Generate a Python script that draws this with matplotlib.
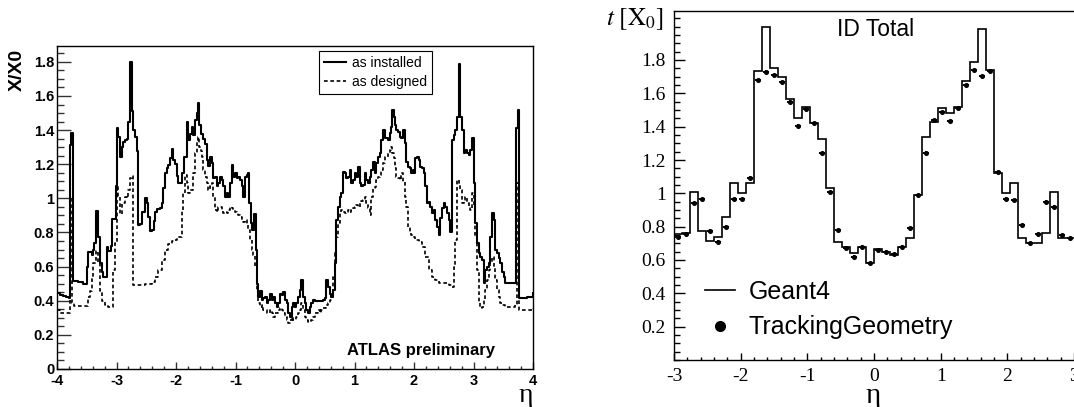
import numpy as np
import matplotlib
matplotlib.use("Agg")
import matplotlib.pyplot as plt
from matplotlib.ticker import MultipleLocator, FixedLocator
from matplotlib.lines import Line2D

plt.rcParams['axes.unicode_minus'] = False
plt.rcParams['mathtext.fontset'] = 'stix'

# ---------------- Left panel data (step edges, values) ----------------
eta_installed = [-4.00, -3.95, -3.90, -3.85, -3.80, -3.785, -3.76, -3.73, -3.65, -3.57, -3.50, -3.474, -3.42, -3.39,
                 -3.373, -3.351, -3.31, -3.28, -3.25, -3.22, -3.166, -3.14, -3.10, -3.071, -3.04, -3.01, -2.998, -2.97,
                 -2.94, -2.914, -2.886, -2.858, -2.83, -2.802, -2.774, -2.746, -2.718, -2.69, -2.662, -2.634, -2.60,
                 -2.567, -2.522, -2.494, -2.466, -2.438, -2.40, -2.371, -2.354, -2.326, -2.27, -2.242, -2.214, -2.186,
                 -2.158, -2.13, -2.102, -2.074, -2.046, -2.018, -1.99, -1.961, -1.905, -1.894, -1.86, -1.821, -1.793,
                 -1.765, -1.737, -1.709, -1.681, -1.653, -1.636, -1.613, -1.58, -1.541, -1.513, -1.485, -1.457, -1.429,
                 -1.401, -1.373, -1.345, -1.317, -1.289, -1.261, -1.233, -1.205, -1.177, -1.149, -1.121, -1.093, -1.065,
                 -1.037, -1.009, -0.981, -0.953, -0.925, -0.897, -0.869, -0.841, -0.813, -0.785, -0.768, -0.74, -0.718,
                 -0.684, -0.656, -0.645, -0.617, -0.589, -0.561, -0.533, -0.505, -0.477, -0.449, -0.421, -0.393, -0.365,
                 -0.337, -0.309, -0.281, -0.253, -0.225, -0.197, -0.169, -0.141, -0.113, -0.085, -0.057, -0.029, -0.006,
                 0.022, 0.05, 0.078, 0.106, 0.134, 0.162, 0.19, 0.218, 0.246, 0.274, 0.302, 0.33, 0.47, 0.498, 0.526,
                 0.554, 0.582, 0.61, 0.638, 0.666, 0.694, 0.722, 0.75, 0.778, 0.806, 0.834, 0.862, 0.89, 0.918, 0.946,
                 0.974, 1.002, 1.03, 1.058, 1.086, 1.114, 1.142, 1.17, 1.198, 1.226, 1.254, 1.282, 1.31, 1.338, 1.366,
                 1.394, 1.422, 1.45, 1.478, 1.506, 1.534, 1.562, 1.59, 1.618, 1.635, 1.657, 1.674, 1.702, 1.73, 1.758,
                 1.786, 1.814, 1.842, 1.87, 1.898, 1.926, 1.954, 1.982, 1.994, 2.022, 2.05, 2.078, 2.106, 2.134, 2.162,
                 2.19, 2.218, 2.246, 2.274, 2.302, 2.33, 2.358, 2.386, 2.414, 2.442, 2.47, 2.498, 2.526, 2.554, 2.582,
                 2.61, 2.638, 2.666, 2.694, 2.722, 2.75, 2.778, 2.806, 2.834, 2.862, 2.89, 2.918, 2.946, 2.974, 3.002,
                 3.03, 3.058, 3.086, 3.114, 3.142, 3.17, 3.198, 3.226, 3.254, 3.282, 3.31, 3.338, 3.366, 3.394, 3.422,
                 3.45, 3.478, 3.506, 3.534, 3.62, 3.719, 3.747, 3.77, 3.90, 4.00]
x0_installed = [0.444, 0.436, 0.43, 0.424, 0.418, 1.31, 1.385, 0.516, 0.508, 0.50, 0.60, 0.684, 0.67, 0.70,
                0.74, 0.928, 0.776, 0.62, 0.57, 0.54, 0.717, 0.69, 0.72, 0.877, 0.88, 1.07, 1.41, 1.36,
                1.245, 1.30, 1.33, 1.34, 1.35, 1.45, 1.80, 1.51, 1.40, 1.36, 1.28, 0.844, 0.85,
                0.92, 1.00, 0.97, 0.89, 0.81, 0.815, 0.87, 0.92, 0.94, 0.945, 0.97, 1.06, 1.147,
                1.18, 1.196, 1.235, 1.29, 1.225, 1.20, 1.13, 1.09, 1.09, 1.15, 1.245, 1.45, 1.34,
                1.38, 1.42, 1.37, 1.46, 1.50, 1.557, 1.43, 1.38, 1.35, 1.32, 1.225, 1.187, 1.245,
                1.21, 1.117, 1.127, 1.07, 1.09, 1.127, 1.108, 1.07, 1.01, 1.03, 1.01, 1.09, 1.196,
                1.127, 1.147, 1.117, 1.127, 1.108, 1.07, 1.01, 1.127, 1.137, 1.147, 0.97, 0.854, 0.815,
                0.91, 0.70, 0.50, 0.424, 0.46, 0.405, 0.414, 0.424, 0.385, 0.405, 0.44, 0.405, 0.424,
                0.385, 0.365, 0.385, 0.44, 0.434, 0.453, 0.405, 0.385, 0.326, 0.307, 0.365, 0.385, 0.365,
                0.385, 0.424, 0.463, 0.52, 0.424, 0.385, 0.346, 0.326, 0.365, 0.385, 0.405, 0.40, 0.405, 0.414, 0.52,
                0.483, 0.44, 0.424, 0.463, 0.62, 0.873, 0.952, 1.01, 1.03, 1.157, 1.147, 1.117, 1.127, 1.166, 1.09,
                1.108, 1.147, 1.127, 1.186, 1.09, 1.07, 1.08, 1.147, 1.108, 1.09, 1.127, 1.166, 1.215, 1.147, 1.206,
                1.245, 1.264, 1.342, 1.40, 1.352, 1.352, 1.342, 1.381, 1.42, 1.518, 1.479, 1.43, 1.40, 1.391, 1.362,
                1.352, 1.40, 1.323, 1.215, 1.186, 1.176, 1.147, 1.166, 1.147, 1.235, 1.245, 1.225, 1.186, 1.176, 1.147,
                1.07, 0.97, 0.98, 0.952, 0.913, 0.932, 0.873, 0.834, 0.785, 0.883, 0.942, 0.97, 0.952, 0.913, 0.873,
                0.805, 1.342, 1.37, 1.40, 1.479, 1.79, 1.479, 1.40, 1.264, 1.284, 1.264, 1.255, 1.284, 1.352, 1.088,
                0.854, 0.737, 0.678, 0.659, 0.639, 0.502, 0.58, 0.60, 0.62, 0.776, 0.913, 0.873, 0.698, 0.678, 0.649,
                0.62, 0.571, 0.541, 0.502, 0.506, 1.41, 1.518, 0.414, 0.424, 0.444]

eta_designed = [-4.00, -3.95, -3.782, -3.755, -3.72, -3.50, -3.474, -3.446, -3.418, -3.39, -3.351, -3.306, -3.278,
                -3.25, -3.194, -3.138, -3.054, -3.026, -2.998, -2.97, -2.942, -2.914, -2.858, -2.83, -2.802, -2.774,
                -2.746, -2.718, -2.60, -2.522, -2.41, -2.354, -2.298, -2.242, -2.186, -2.13, -2.074, -2.018, -1.989,
                -1.905, -1.894, -1.877, -1.849, -1.821, -1.793, -1.765, -1.709, -1.681, -1.653, -1.636, -1.613, -1.58,
                -1.558, -1.541, -1.513, -1.485, -1.457, -1.429, -1.401, -1.373, -1.345, -1.317, -1.289, -1.233, -1.205,
                -1.177, -1.149, -1.121, -1.093, -1.065, -1.037, -1.009, -0.981, -0.953, -0.925, -0.897, -0.869, -0.841,
                -0.813, -0.785, -0.757, -0.729, -0.701, -0.673, -0.645, -0.617, -0.589, -0.561, -0.533, -0.477, -0.421,
                -0.393, -0.365, -0.337, -0.281, -0.253, -0.225, -0.197, -0.169, -0.141, -0.113, -0.085, -0.057, -0.029,
                0.022, 0.05, 0.078, 0.106, 0.134, 0.162, 0.19, 0.218, 0.274, 0.302, 0.33, 0.386, 0.414, 0.442, 0.47,
                0.526, 0.554, 0.582, 0.61, 0.638, 0.666, 0.694, 0.722, 0.75, 0.778, 0.806, 0.834, 0.862, 0.89, 0.918,
                0.946, 0.974, 1.002, 1.03, 1.058, 1.086, 1.114, 1.142, 1.17, 1.198, 1.226, 1.254, 1.282, 1.31, 1.338,
                1.366, 1.394, 1.422, 1.45, 1.478, 1.506, 1.562, 1.59, 1.618, 1.635, 1.657, 1.674, 1.702, 1.73, 1.758,
                1.786, 1.814, 1.842, 1.87, 1.898, 1.926, 1.954, 1.982, 2.022, 2.078, 2.134, 2.19, 2.246, 2.302, 2.358,
                2.414, 2.47, 2.526, 2.582, 2.638, 2.666, 2.694, 2.722, 2.75, 2.778, 2.806, 2.834, 2.862, 2.89, 2.918,
                2.946, 2.974, 3.002, 3.03, 3.058, 3.086, 3.114, 3.142, 3.17, 3.198, 3.226, 3.254, 3.282, 3.31, 3.338,
                3.366, 3.394, 3.422, 3.45, 3.478, 3.534, 3.70, 3.725, 3.76, 3.90, 4.00]
x0_designed = [0.346, 0.326, 1.00, 0.385, 0.37, 0.372, 0.42, 0.46, 0.54, 0.62, 0.69, 0.62, 0.46,
               0.40, 0.375, 0.366, 0.58, 0.74, 1.07, 1.01, 0.91, 0.97, 1.01, 1.00, 1.05, 1.12,
               1.13, 0.49, 0.492, 0.50, 0.51, 0.54, 0.58, 0.64, 0.70, 0.73, 0.75, 0.756, 0.776,
               0.79, 0.93, 1.03, 1.137, 1.09, 1.03, 1.05, 1.147, 1.264, 1.34, 1.36, 1.30, 1.28,
               1.245, 1.166, 1.127, 1.09, 1.05, 1.07, 1.09, 1.01, 0.93, 0.92, 0.952, 0.93, 0.913,
               0.923, 0.913, 0.93, 0.952, 0.942, 0.93, 0.923, 0.913, 0.903, 0.893, 0.873, 0.863, 0.873,
               0.844, 0.815, 0.756, 0.70, 0.67, 0.60, 0.46, 0.385, 0.365, 0.375, 0.346, 0.326, 0.346,
               0.326, 0.307, 0.326, 0.346, 0.356, 0.346, 0.326, 0.307, 0.287, 0.267, 0.287, 0.307, 0.287,
               0.307, 0.326, 0.346, 0.385, 0.346, 0.307, 0.287, 0.277, 0.287, 0.307, 0.326, 0.346, 0.326, 0.346, 0.356,
               0.375, 0.385, 0.405, 0.424, 0.54, 0.68, 0.776, 0.854, 0.913, 0.932, 0.923, 0.913, 0.923, 0.932, 0.923,
               0.932, 0.942, 0.952, 0.962, 0.952, 0.972, 0.982, 0.991, 1.01, 0.972, 0.942, 0.903, 1.01, 1.059, 1.069,
               1.108, 1.127, 1.137, 1.166, 1.206, 1.245, 1.264, 1.284, 1.30, 1.264, 1.235, 1.176, 1.127, 1.117, 1.108,
               1.147, 1.098, 1.01, 0.952, 0.834, 0.795, 0.785, 0.776, 0.756, 0.747, 0.717, 0.659, 0.58, 0.541, 0.522,
               0.502, 0.505, 0.502, 0.492, 0.479, 0.60, 0.756, 1.108, 1.088, 1.05, 0.97, 0.99, 1.01, 0.97, 0.942,
               0.932, 1.03, 0.952, 0.776, 0.58, 0.385, 0.356, 0.365, 0.405, 0.463, 0.522, 0.58, 0.62, 0.659, 0.60,
               0.522, 0.463, 0.424, 0.385, 0.375, 0.365, 0.375, 1.088, 0.346, 0.346, 0.356]

# ---------------- Right panel data (50 bins, -3..3) ----------------
eta_lo, eta_hi, n_bins = -3.0, 3.0, 50
geant4 = [0.756, 0.76, 1.006, 0.774, 0.716, 0.74, 0.86, 1.064, 1.0, 1.064,
          1.736, 1.996, 1.75, 1.70, 1.564, 1.45, 1.516, 1.42, 1.324, 1.03,
          0.71, 0.68, 0.64, 0.68, 0.58, 0.664, 0.65, 0.63, 0.68, 0.73,
          0.99, 1.34, 1.43, 1.51, 1.484, 1.52, 1.676, 1.79, 1.984, 1.74,
          1.12, 1.004, 1.06, 0.73, 0.70, 0.70, 0.76, 1.01, 0.73, 0.73]
tracking = [0.74, 0.755, 0.94, 0.964, 0.776, 0.71, 0.80, 0.965, 0.965, 1.094,
            1.68, 1.73, 1.71, 1.666, 1.55, 1.406, 1.506, 1.42, 1.24, 1.006,
            0.78, 0.67, 0.62, 0.68, 0.58, 0.66, 0.65, 0.635, 0.68, 0.79,
            0.99, 1.244, 1.44, 1.486, 1.434, 1.51, 1.65, 1.74, 1.704, 1.734,
            1.127, 0.968, 0.96, 0.81, 0.70, 0.754, 0.95, 0.92, 0.75, 0.73]
tracking_xerr = 0.04
tracking_yerr = 0.008

W, H = 1074, 407
fig = plt.figure(figsize=(W / 100, H / 100), dpi=100)

def px_axes(l, t, r, b):
    return fig.add_axes([l / W, 1 - b / H, (r - l) / W, (b - t) / H])

# ---------------- Left panel ----------------
axL = px_axes(57, 46, 533, 369)
axL.step(eta_installed, x0_installed, where='post', color='black', lw=1.5, label='as installed')
axL.step(eta_designed, x0_designed, where='post', color='black', lw=1.2, ls=(0, (2.2, 1.6)), label='as designed')
axL.set_xlim(-4, 4)
axL.set_ylim(0, 1.893)
axL.xaxis.set_major_locator(MultipleLocator(1))
axL.xaxis.set_minor_locator(MultipleLocator(0.2))
axL.yaxis.set_major_locator(FixedLocator([0, 0.2, 0.4, 0.6, 0.8, 1.0, 1.2, 1.4, 1.6, 1.8]))
axL.yaxis.set_minor_locator(MultipleLocator(0.05))
axL.tick_params(direction='in', top=False, right=False, which='both', width=1.0, color='#333333')
axL.tick_params(axis='y', which='major', length=10, pad=2)
axL.tick_params(axis='y', which='minor', length=5)
axL.tick_params(axis='x', which='major', length=5, pad=3.5)
axL.tick_params(axis='x', which='minor', length=2.5)
axL.set_yticklabels(['0', '0.2', '0.4', '0.6', '0.8', '1', '1.2', '1.4', '1.6', '1.8'])
for lab in axL.get_xticklabels() + axL.get_yticklabels():
    lab.set_fontfamily('Liberation Sans')
    lab.set_fontweight('bold')
    lab.set_fontsize(10.5)
for sp in axL.spines.values():
    sp.set_linewidth(1.0)
leg = axL.legend(loc='upper left', bbox_to_anchor=(319 / W, 1 - 51 / H), bbox_transform=fig.transFigure,
                 frameon=True, fancybox=False, edgecolor='black', framealpha=1,
                 prop={'family': 'Liberation Sans', 'size': 10}, handlelength=1.6,
                 handletextpad=0.4, borderpad=0.35, labelspacing=0.35, borderaxespad=0)
leg.get_frame().set_linewidth(0.8)
fig.text(17 / W, 1 - 70 / H, 'X/X0', rotation=90, ha='center', va='center',
         fontfamily='Liberation Sans', fontweight='bold', fontsize=14)
fig.text(421 / W, 1 - 350 / H, 'ATLAS preliminary', ha='center', va='center',
         fontfamily='Liberation Sans', fontweight='bold', fontsize=12)
fig.text(526 / W, 1 - 395 / H, 'η', ha='center', va='center', fontfamily='Liberation Serif', fontsize=20)

# ---------------- Right panel ----------------
axR = px_axes(674, 11, 1074, 360)
edges = np.linspace(eta_lo, eta_hi, n_bins + 1)
centers = 0.5 * (edges[:-1] + edges[1:])
axR.stairs(geant4, edges, color='black', lw=1.2, baseline=None)
axR.errorbar(centers, tracking, xerr=tracking_xerr, yerr=tracking_yerr, fmt='o', color='black',
             ms=2.6, elinewidth=1.4, capsize=0)
axR.set_xlim(-3, 3)
axR.set_ylim(0, 2.094)
axR.xaxis.set_major_locator(MultipleLocator(1))
axR.xaxis.set_minor_locator(MultipleLocator(0.2))
axR.yaxis.set_major_locator(FixedLocator([0.2, 0.4, 0.6, 0.8, 1.0, 1.2, 1.4, 1.6, 1.8]))
axR.yaxis.set_minor_locator(MultipleLocator(0.05))
axR.tick_params(direction='in', top=False, right=False, which='both', width=1.0)
axR.tick_params(axis='y', which='major', length=8, pad=6)
axR.tick_params(axis='y', which='minor', length=4)
axR.tick_params(axis='x', which='major', length=5, pad=6)
axR.tick_params(axis='x', which='minor', length=2.5)
axR.set_yticklabels(['0.2', '0.4', '0.6', '0.8', '1', '1.2', '1.4', '1.6', '1.8'])
for lab in axR.get_xticklabels() + axR.get_yticklabels():
    lab.set_fontfamily('Liberation Serif')
    lab.set_fontsize(14)
for sp in axR.spines.values():
    sp.set_linewidth(1.0)
axR.spines['right'].set_visible(False)

h_g4 = Line2D([], [], color='black', lw=1.2)
h_tg = Line2D([], [], color='black', marker='o', ls='none', ms=7)
axR.legend([h_g4, h_tg], ['Geant4', 'TrackingGeometry'], loc='upper left',
           bbox_to_anchor=(705 / W, 1 - 280 / H), bbox_transform=fig.transFigure, frameon=False,
           prop={'family': 'Liberation Sans', 'size': 18}, handlelength=1.2, handletextpad=0.55,
           labelspacing=0.45, borderpad=0, borderaxespad=0)
fig.text(876 / W, 1 - 29 / H, 'ID Total', ha='center', va='center',
         fontfamily='Liberation Sans', fontsize=16.5)
fig.text(664 / W, 1 - 19 / H, r'$t\ [\mathrm{X}_0]$', ha='right', va='center', fontsize=18)
fig.text(873 / W, 1 - 396 / H, 'η', ha='center', va='center', fontfamily='Liberation Serif', fontsize=21)

fig.savefig('out.png', dpi=100)
